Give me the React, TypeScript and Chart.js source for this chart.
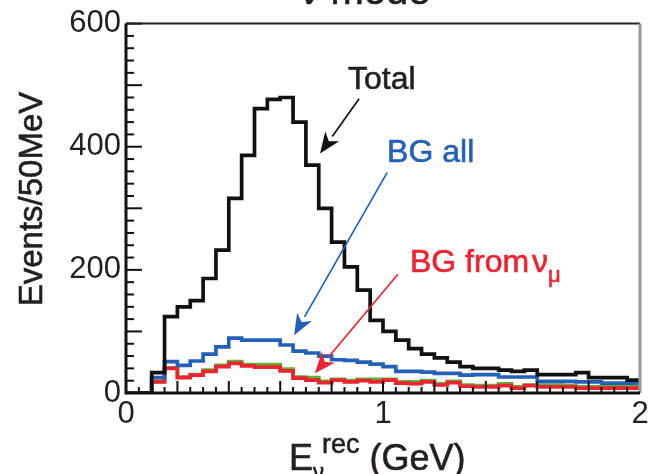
import React, { useEffect, useRef } from "react";
import { Chart, registerables } from "chart.js";

Chart.register(...registerables);

// Reconstructed-energy bins: 40 bins of 50 MeV from 0 to 2 GeV (low edges)
const binLowEdges = Array.from({ length: 40 }, (_, i) => Math.round(i * 5) / 100);
const binUpperEnd = 2.0;

// Events / 50 MeV
const totalEvents = [
  0, 0, 33, 124, 140, 150, 186, 232, 316, 386,
  462, 477, 480, 440, 370, 300, 245, 205, 167, 118,
  100, 86, 72, 63, 57, 50, 43, 40, 40, 37,
  35, 37, 30, 30, 30, 33, 25, 25, 25, 21,
];
const bgAll = [
  null, 0, 25, 51, 45, 52, 63, 75, 89, 86,
  86, 86, 78, 68, 65, 60, 54, 53, 50, 47,
  43, 35, 35, 34, 32, 32, 29, 30, 30, 26,
  26, 26, 19, 19, 19, 18, 18, 16, 16, 16,
];
const bgFromNumuGreen = [
  null, 0, 19, 41, 26, 30, 37, 45, 51, 46,
  46, 46, 39, 26, 25, 19, 22, 20, 22, 22,
  22, 18, 18, 20, 15, 19, 13, 12, 12, 15,
  10, 13, 13, 13, 12, 10, 10, 10, 10, 10,
];
const bgFromNumu = [
  null, 0, 18, 40, 25, 29, 35, 43, 48, 44,
  42, 42, 36, 24, 21, 17, 21, 18, 20, 18,
  21, 16, 15, 18, 13, 17, 11, 10, 10, 12,
  8, 12, 10, 10, 10, 8, 8, 8, 8, 8,
];

const yTickValues = [0, 200, 400, 600];
const xTickValues = [0, 1, 2];

const FONT = "'Liberation Sans', Arial, Helvetica, sans-serif";
const TEXT = "#231f20";
const BLUE = "#2361b8";
const RED = "#ee2330";
const GREEN = "#5cb335";

function toSteps(values: (number | null)[]) {
  const pts = values.map((v, i) => ({ x: binLowEdges[i], y: v }));
  pts.push({ x: binUpperEnd, y: values[values.length - 1] });
  return pts;
}

function arrow(
  ctx: CanvasRenderingContext2D,
  x0: number, y0: number, x1: number, y1: number,
  color: string
) {
  const ang = Math.atan2(y1 - y0, x1 - x0);
  const headLen = 21;
  const headW = 8.5;
  const bx = x1 - headLen * Math.cos(ang);
  const by = y1 - headLen * Math.sin(ang);
  ctx.save();
  ctx.strokeStyle = color;
  ctx.fillStyle = color;
  ctx.lineWidth = 1.7;
  ctx.beginPath();
  ctx.moveTo(x0, y0);
  ctx.lineTo(bx, by);
  ctx.stroke();
  ctx.beginPath();
  ctx.moveTo(x1, y1);
  ctx.lineTo(bx + headW * Math.sin(ang), by - headW * Math.cos(ang));
  ctx.lineTo(x1 - headLen * 0.72 * Math.cos(ang), y1 - headLen * 0.72 * Math.sin(ang));
  ctx.lineTo(bx - headW * Math.sin(ang), by + headW * Math.cos(ang));
  ctx.closePath();
  ctx.fill();
  ctx.restore();
}

function boldText(ctx: CanvasRenderingContext2D, s: string, x: number, y: number) {
  ctx.fillText(s, x, y);
  ctx.lineWidth = 0.6;
  ctx.strokeStyle = ctx.fillStyle as string;
  ctx.strokeText(s, x, y);
}

const decorPlugin = {
  id: "decor",
  afterDraw(chart: any) {
    const ctx: CanvasRenderingContext2D = chart.ctx;
    const { left, right, top, bottom } = chart.chartArea;
    const xs = chart.scales.x;
    const ys = chart.scales.y;
    ctx.save();

    // inner ticks
    ctx.strokeStyle = "#111";
    ctx.lineWidth = 2;
    for (let k = 0; k <= 30; k++) {
      const v = k * 20;
      const py = ys.getPixelForValue(v);
      const len = v % 100 === 0 ? 16 : 8;
      ctx.beginPath();
      ctx.moveTo(left, py);
      ctx.lineTo(left + len, py);
      ctx.stroke();
    }
    for (let k = 0; k <= 40; k++) {
      const v = k * 0.05;
      const px = xs.getPixelForValue(v);
      const len = k % 4 === 0 ? 12 : 6;
      ctx.beginPath();
      ctx.moveTo(px, bottom);
      ctx.lineTo(px, bottom - len);
      ctx.stroke();
    }

    // frame
    ctx.lineWidth = 2;
    ctx.strokeStyle = "#222";
    ctx.beginPath();
    ctx.moveTo(left, top);
    ctx.lineTo(right, top);
    ctx.stroke();
    ctx.strokeStyle = "#999";
    ctx.lineWidth = 3;
    ctx.beginPath();
    ctx.moveTo(right, top);
    ctx.lineTo(right, bottom);
    ctx.stroke();
    ctx.strokeStyle = "#111";
    ctx.lineWidth = 3;
    ctx.beginPath();
    ctx.moveTo(left, top);
    ctx.lineTo(left, bottom);
    ctx.lineTo(right, bottom);
    ctx.stroke();

    // title (cut off at top)
    ctx.fillStyle = TEXT;
    ctx.font = `40px ${FONT}`;
    ctx.textAlign = "center";
    ctx.textBaseline = "alphabetic";
    boldText(ctx, "ν mode", 365, 4);

    // y-axis title
    ctx.save();
    ctx.translate(42, 199);
    ctx.rotate(-Math.PI / 2);
    ctx.font = `33px ${FONT}`;
    ctx.textAlign = "center";
    boldText(ctx, "Events/50MeV", 0, 0);
    ctx.restore();

    // x-axis title: E_ν^rec (GeV)
    ctx.textAlign = "left";
    let cx = 289;
    ctx.font = `36px ${FONT}`;
    boldText(ctx, "E", cx, 470);
    cx += ctx.measureText("E").width;
    ctx.font = `22px ${FONT}`;
    boldText(ctx, "ν", cx, 479);
    ctx.font = `27px ${FONT}`;
    boldText(ctx, "rec", cx + 9, 453);
    cx += 9 + ctx.measureText("rec").width + 10;
    ctx.font = `36px ${FONT}`;
    boldText(ctx, "(GeV)", cx, 470);

    // annotations
    const X = (v: number) => xs.getPixelForValue(v);
    const Y = (v: number) => ys.getPixelForValue(v);
    ctx.font = `32px ${FONT}`;
    ctx.fillStyle = TEXT;
    boldText(ctx, "Total", X(0.864), Y(494));
    arrow(ctx, X(0.907), Y(478), X(0.755), Y(389), "#111");

    ctx.fillStyle = BLUE;
    boldText(ctx, "BG all", X(1.016), Y(376));
    arrow(ctx, X(1.016), Y(358), X(0.654), Y(94), BLUE);

    ctx.fillStyle = RED;
    const bx = X(1.105);
    const by = Y(196);
    boldText(ctx, "BG from", bx, by);
    const w1 = ctx.measureText("BG from").width;
    boldText(ctx, "ν", bx + w1 + 3, by);
    const w2 = ctx.measureText("ν").width;
    ctx.font = `22px ${FONT}`;
    boldText(ctx, "μ", bx + w1 + 3 + w2, by + 10);
    arrow(ctx, X(1.058), Y(193), X(0.735), Y(32), RED);

    ctx.restore();
  },
};

export default function App() {
  const ref = useRef<HTMLCanvasElement | null>(null);
  useEffect(() => {
    if (!ref.current) return;
    Chart.defaults.font.family = FONT;
    const common = {
      stepped: "before" as const,
      pointRadius: 0,
      borderWidth: 3.7,
      fill: false,
      tension: 0,
      spanGaps: false,
    };
    const chart = new Chart(ref.current, {
      type: "line",
      data: {
        datasets: [
          { ...common, label: "Total", data: toSteps(totalEvents), borderColor: "#111" },
          { ...common, label: "BG all", data: toSteps(bgAll), borderColor: BLUE },
          { ...common, label: "BG from νμ", data: toSteps(bgFromNumu), borderColor: RED },
          { ...common, label: "BG (other)", data: toSteps(bgFromNumuGreen), borderColor: GREEN },
        ],
      },
      options: {
        animation: false,
        responsive: false,
        maintainAspectRatio: false,
        parsing: false as any,
        layout: { padding: { top: 23, right: 12, left: 0, bottom: 0 } },
        plugins: { legend: { display: false }, tooltip: { enabled: false }, title: { display: false } },
        scales: {
          x: {
            type: "linear",
            min: 0,
            max: 2,
            afterBuildTicks: (s: any) => {
              s.ticks = xTickValues.map((v) => ({ value: v }));
            },
            afterFit: (s: any) => {
              s.height = 81;
            },
            ticks: { font: { size: 31, family: FONT }, color: TEXT, padding: 3, maxRotation: 0, autoSkip: false },
            grid: { display: false, drawTicks: false },
            border: { display: false },
          },
          y: {
            type: "linear",
            min: 0,
            max: 600,
            afterBuildTicks: (s: any) => {
              s.ticks = yTickValues.map((v) => ({ value: v }));
            },
            afterFit: (s: any) => {
              s.width = 126;
            },
            ticks: { font: { size: 31, family: FONT }, color: TEXT, padding: 5 },
            grid: { display: false, drawTicks: false },
            border: { display: false },
          },
        },
      },
      plugins: [decorPlugin],
    });
    return () => chart.destroy();
  }, []);
  return (
    <div style={{ position: "absolute", left: 0, top: 0, width: 652, height: 474, background: "#fff" }}>
      <canvas ref={ref} width={652} height={474} />
    </div>
  );
}
